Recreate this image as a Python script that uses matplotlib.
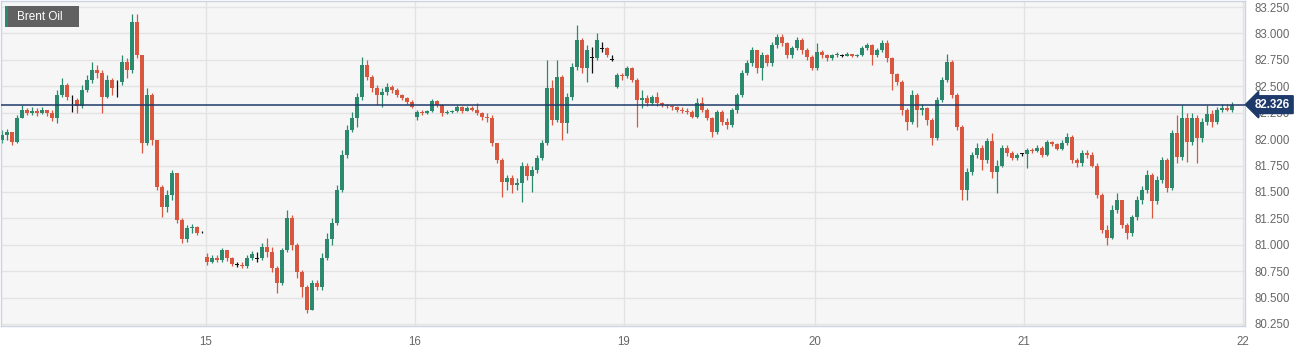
import numpy as np
import matplotlib
matplotlib.use("Agg")
import matplotlib.pyplot as plt
from matplotlib.patches import Rectangle

# ---------------- data (Brent Oil, intraday candles) ----------------
first_open = 81.99
closes = [
    82.04, 82.07, 81.97, 82.20, 82.28, 82.25, 82.27, 82.25, 82.28, 82.25,
    82.20, 82.42, 82.51, 82.40, 82.37, 82.31, 82.46, 82.56, 82.65, 82.63,
    82.40, 82.56, 82.48, 82.54, 82.73, 82.65, 83.11, 82.80, 81.96, 82.42,
    81.99, 81.55, 81.36, 81.47, 81.68, 81.23, 81.05, 81.16, 81.17, 81.11,
    81.12,
    80.84, 80.87, 80.86, 80.95, 80.87, 80.82, 80.81, 80.80, 80.87, 80.91,
    80.87, 80.98, 80.93, 80.78, 80.64, 80.95, 81.25, 81.00, 80.74, 80.60,
    80.38, 80.64, 80.60, 80.87, 81.05, 81.21, 81.52, 81.85, 82.09, 82.20,
    82.40, 82.70, 82.59, 82.48, 82.42, 82.45, 82.49, 82.46, 82.42, 82.39,
    82.35, 82.30,
    82.26, 82.25, 82.27, 82.36, 82.32, 82.25, 82.26, 82.27, 82.30, 82.27,
    82.29, 82.28, 82.25, 82.21, 82.20, 81.96, 81.80, 81.59, 81.63, 81.57,
    81.58, 81.75, 81.65, 81.71, 81.82, 81.96, 82.48, 82.18, 82.59, 82.15,
    82.40, 82.68, 82.94, 82.67, 82.84, 82.77, 82.94, 82.86, 82.80, 82.75,
    82.61, 82.60, 82.67, 82.56, 82.37, 82.39, 82.34, 82.40, 82.34, 82.32,
    82.31, 82.30, 82.28, 82.27, 82.26, 82.21, 82.34, 82.28, 82.20, 82.07,
    82.26, 82.16, 82.13, 82.28, 82.42, 82.63, 82.72, 82.84, 82.67, 82.80,
    82.72, 82.89, 82.97, 82.91, 82.80, 82.86, 82.94, 82.84, 82.78, 82.67,
    82.82, 82.80, 82.77, 82.80, 82.81, 82.79, 82.81, 82.79, 82.80, 82.86,
    82.89, 82.80, 82.84, 82.91, 82.77, 82.62, 82.54, 82.28, 82.16, 82.42,
    82.28, 82.29, 82.18, 82.01, 82.37, 82.56, 82.73, 82.42, 82.11, 81.52,
    81.69, 81.85, 81.92, 81.80, 81.98, 81.69, 81.75, 81.92, 81.87, 81.82,
    81.85, 81.86,
    81.90, 81.89, 81.92, 81.85, 81.97, 81.95, 81.91, 81.96, 82.02, 81.80,
    81.77, 81.87, 81.85, 81.75, 81.47, 81.14, 81.06, 81.33, 81.42, 81.19,
    81.11, 81.26, 81.42, 81.52, 81.66, 81.41, 81.61, 81.80, 81.54, 82.06,
    81.83, 82.20, 81.97, 82.20, 82.01, 82.16, 82.24, 82.16, 82.28, 82.29,
    82.28, 82.326,
]
highs = [
    82.09, 82.10, 82.07, 82.23, 82.32, 82.29, 82.30, 82.29, 82.30, 82.28,
    82.28, 82.46, 82.58, 82.53, 82.42, 82.39, 82.51, 82.61, 82.73, 82.70,
    82.65, 82.61, 82.58, 82.56, 82.80, 82.77, 83.18, 83.18, 82.80, 82.48,
    82.44, 81.99, 81.57, 81.52, 81.71, 81.68, 81.25, 81.19, 81.20, 81.18,
    81.13,
    80.92, 80.90, 80.90, 80.97, 80.95, 80.88, 80.84, 80.84, 80.90, 80.94,
    80.93, 81.02, 81.06, 80.98, 80.80, 80.97, 81.33, 81.28, 81.02, 80.76,
    80.62, 80.67, 80.67, 80.92, 81.11, 81.25, 81.57, 81.90, 82.13, 82.26,
    82.44, 82.78, 82.75, 82.61, 82.51, 82.48, 82.53, 82.51, 82.48, 82.43,
    82.40, 82.37,
    82.28, 82.28, 82.28, 82.38, 82.37, 82.33, 82.28, 82.28, 82.32, 82.31,
    82.31, 82.31, 82.34, 82.26, 82.25, 82.23, 81.96, 81.82, 81.66, 81.66,
    81.63, 81.78, 81.77, 81.75, 81.85, 81.99, 82.75, 82.56, 82.75, 82.61,
    82.44, 82.72, 83.08, 82.96, 82.89, 82.87, 83.00, 82.92, 82.87, 82.80,
    82.63, 82.63, 82.69, 82.68, 82.58, 82.46, 82.42, 82.42, 82.45, 82.35,
    82.33, 82.32, 82.31, 82.30, 82.29, 82.28, 82.39, 82.40, 82.29, 82.21,
    82.28, 82.28, 82.20, 82.29, 82.44, 82.65, 82.75, 82.87, 82.84, 82.82,
    82.81, 82.92, 82.99, 82.99, 82.92, 82.88, 82.97, 82.96, 82.86, 82.80,
    82.91, 82.84, 82.81, 82.81, 82.82, 82.81, 82.82, 82.81, 82.81, 82.88,
    82.91, 82.90, 82.86, 82.94, 82.94, 82.78, 82.63, 82.56, 82.29, 82.46,
    82.44, 82.33, 82.30, 82.20, 82.40, 82.59, 82.81, 82.75, 82.44, 82.13,
    81.73, 81.88, 81.96, 81.94, 82.01, 82.06, 81.80, 81.94, 81.94, 81.89,
    81.87, 81.87,
    81.92, 81.92, 81.94, 81.93, 81.99, 81.98, 81.96, 81.99, 82.06, 82.04,
    81.82, 81.90, 81.90, 81.88, 81.77, 81.49, 81.19, 81.38, 81.49, 81.33,
    81.21, 81.28, 81.46, 81.56, 81.71, 81.68, 81.65, 81.83, 81.82, 82.09,
    82.23, 82.32, 82.25, 82.25, 82.23, 82.20, 82.32, 82.28, 82.30, 82.33,
    82.33, 82.35,
]
lows = [
    81.96, 81.99, 81.94, 81.96, 82.20, 82.23, 82.23, 82.22, 82.24, 82.22,
    82.17, 82.15, 82.40, 82.37, 82.26, 82.25, 82.29, 82.45, 82.53, 82.58,
    82.25, 82.39, 82.42, 82.40, 82.51, 82.58, 82.63, 82.77, 81.87, 81.94,
    81.94, 81.52, 81.26, 81.31, 81.42, 81.21, 81.02, 81.03, 81.11, 81.09,
    81.11,
    80.81, 80.83, 80.84, 80.84, 80.85, 80.80, 80.79, 80.78, 80.78, 80.86,
    80.84, 80.86, 80.88, 80.74, 80.54, 80.62, 80.93, 80.95, 80.69, 80.51,
    80.35, 80.38, 80.57, 80.57, 80.86, 81.00, 81.19, 81.50, 81.82, 82.07,
    82.11, 82.37, 82.56, 82.45, 82.32, 82.30, 82.42, 82.44, 82.40, 82.37,
    82.33, 82.29,
    82.18, 82.23, 82.24, 82.26, 82.30, 82.22, 82.24, 82.25, 82.26, 82.25,
    82.27, 82.27, 82.23, 82.18, 82.16, 81.93, 81.77, 81.45, 81.52, 81.49,
    81.52, 81.40, 81.61, 81.50, 81.68, 81.80, 81.94, 82.13, 82.16, 81.99,
    82.06, 82.37, 82.65, 82.63, 82.54, 82.63, 82.75, 82.82, 82.78, 82.74,
    82.48, 82.56, 82.58, 82.54, 82.11, 82.29, 82.31, 82.32, 82.31, 82.30,
    82.29, 82.28, 82.26, 82.25, 82.24, 82.20, 82.20, 82.26, 82.18, 82.02,
    82.05, 82.13, 82.10, 82.11, 82.25, 82.40, 82.61, 82.69, 82.63, 82.56,
    82.69, 82.69, 82.86, 82.88, 82.77, 82.77, 82.84, 82.81, 82.75, 82.65,
    82.65, 82.77, 82.74, 82.75, 82.78, 82.78, 82.79, 82.78, 82.78, 82.79,
    82.84, 82.70, 82.78, 82.82, 82.73, 82.46, 82.51, 82.23, 82.09, 82.14,
    82.11, 82.23, 82.13, 81.94, 81.99, 82.35, 82.54, 82.39, 82.09, 81.42,
    81.42, 81.66, 81.82, 81.71, 81.77, 81.63, 81.49, 81.74, 81.84, 81.80,
    81.80, 81.84,
    81.73, 81.87, 81.88, 81.83, 81.84, 81.93, 81.90, 81.90, 81.94, 81.77,
    81.74, 81.75, 81.82, 81.74, 81.44, 81.11, 81.00, 81.05, 81.30, 81.16,
    81.05, 81.08, 81.23, 81.39, 81.49, 81.25, 81.39, 81.58, 81.50, 81.52,
    81.77, 81.80, 81.78, 81.94, 81.77, 81.97, 82.13, 82.11, 82.14, 82.26,
    82.27, 82.26,
]
# opening prices of a new trading session (candle index -> open)
session_opens = {41: 80.88, 83: 82.21, 123: 82.49}
# candles drawn as black dojis in the reference
doji_idx = [14, 23, 40, 47, 51, 118, 120, 122, 168, 204]

day_labels = ["15", "16", "19", "20", "21", "22"]
day_positions = [40.8, 82.6, 124.4, 162.6, 204.4, 248.2]
y_ticks = [80.25, 80.50, 80.75, 81.00, 81.25, 81.50, 81.75,
           82.00, 82.25, 82.50, 82.75, 83.00, 83.25]
last_price = 82.326
series_name = "Brent Oil"

# ---------------- build ----------------
closes = np.array(closes)
highs = np.array(highs)
lows = np.array(lows)
opens = np.r_[first_open, closes[:-1]]
for k, v in session_opens.items():
    opens[k] = v
n = len(closes)
xs = np.arange(n)

GREEN = "#2b8a6d"
RED = "#d9573f"
colors = []
body_bottom = np.minimum(opens, closes)
body_h = np.maximum(np.abs(closes - opens), 0.008)
for i, (o, c) in enumerate(zip(opens, closes)):
    if i in doji_idx:
        colors.append("#111111")
        body_bottom[i] = c - 0.004
        body_h[i] = 0.008
    elif c >= o:
        colors.append(GREEN)
    else:
        colors.append(RED)

W, H = 1310, 352
fig = plt.figure(figsize=(W / 100, H / 100), dpi=100)
fig.patch.set_facecolor("white")
ax = fig.add_axes([1 / W, 26 / H, 1244 / W, 325 / H])
ax.set_facecolor("#f6f6f6")

ax.set_xlim(-0.2, 248.6)
ax.set_ylim(80.231, 83.307)

ax.set_yticks(y_ticks)
ax.set_yticklabels([f"{v:.3f}" for v in y_ticks])
ax.yaxis.tick_right()
ax.set_xticks(day_positions)
ax.set_xticklabels(day_labels)
ax.grid(True, color="#e3e3e3", lw=1.0, zorder=0)
ax.set_axisbelow(True)
ax.tick_params(axis="both", length=0, colors="#666666", labelsize=8.3)
ax.tick_params(axis="y", pad=7)
ax.tick_params(axis="x", pad=7)
for lab in ax.get_xticklabels() + ax.get_yticklabels():
    lab.set_family(["Liberation Sans", "DejaVu Sans"])
for s in ax.spines.values():
    s.set_color("#cdd3e3")
    s.set_linewidth(1.0)

# wicks
ax.vlines(xs, lows, highs, colors=colors, lw=0.9, zorder=2)
# bodies
ax.bar(xs, body_h, bottom=body_bottom, width=0.62, color=colors,
       linewidth=0, zorder=3)

# last price line
ax.axhline(last_price, color="#1e3a6a", lw=1.1, zorder=4)
ax.text(1.0 + 10 / 1244, last_price, f"{last_price:.3f}",
        transform=ax.get_yaxis_transform(), ha="left", va="center",
        color="white", fontsize=8.3, fontweight="bold",
        family=["Liberation Sans", "DejaVu Sans"], zorder=10, clip_on=False,
        bbox=dict(boxstyle="larrow,pad=0.25", fc="#1e3a6a", ec="#1e3a6a"))

# legend box
ax.add_patch(Rectangle((4 / 1244, 1 - 26 / 325), 74 / 1244, 21 / 325,
                       transform=ax.transAxes, fc="#616161", ec="none",
                       zorder=11))
ax.add_patch(Rectangle((4 / 1244, 1 - 26 / 325), 3 / 1244, 21 / 325,
                       transform=ax.transAxes, fc="#2b8a6d", ec="none",
                       zorder=12))
ax.text(16 / 1244, 1 - 15.5 / 325, series_name, transform=ax.transAxes,
        ha="left", va="center", color="white", fontsize=8.5,
        family=["Liberation Sans", "DejaVu Sans"], zorder=13)

fig.savefig("out.png", dpi=100, facecolor="white")
